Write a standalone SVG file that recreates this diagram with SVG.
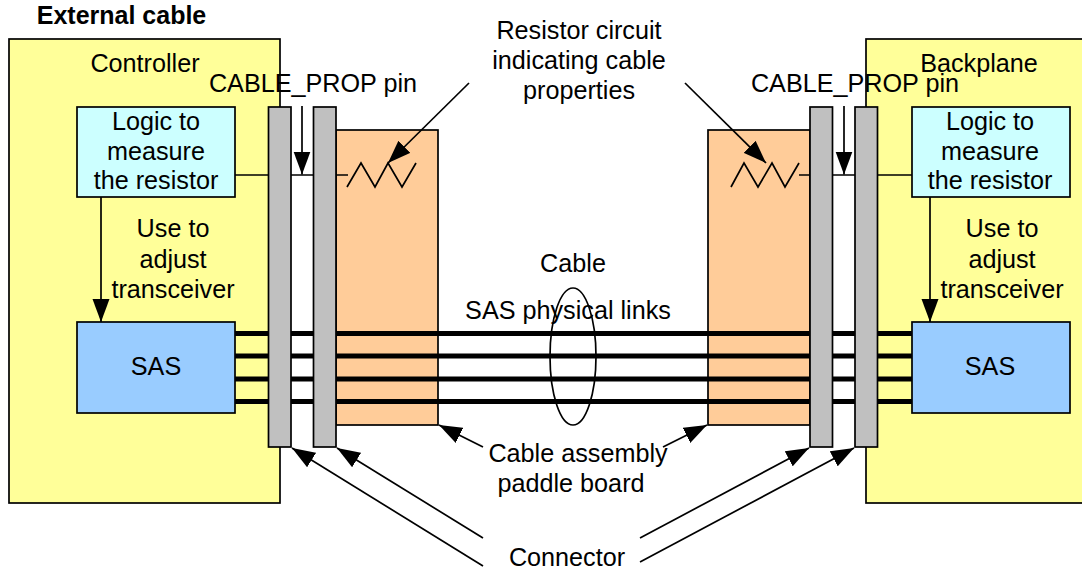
<svg xmlns="http://www.w3.org/2000/svg" width="1082" height="571" viewBox="0 0 1082 571">
<style>
text{font-family:"Liberation Sans",Arial,sans-serif;font-size:25.200px;fill:#000;text-anchor:middle}
.box{stroke:#000;stroke-width:1.700}
.y{fill:#ffff99}.c{fill:#ccffff}.s{fill:#99ccff}.p{fill:#ffcc99}.g{fill:#c0c0c0}
.l{stroke:#000;stroke-width:1.700;fill:none}
.a{stroke:#000;stroke-width:1.700;fill:none;marker-end:url(#ah)}
.bus{stroke:#000;stroke-width:5;fill:none}
</style>
<defs>
<marker id="ah" markerUnits="userSpaceOnUse" markerWidth="24" markerHeight="18" refX="23" refY="9" orient="auto"><path d="M0 0.500L23 9L0 17.500Z" fill="#000"/></marker>
</defs>
<text x="121.500" y="24" style="font-weight:bold;font-size:25px">External cable</text>
<g id="controller"><rect class="box y" x="9" y="39" width="271" height="464"/><text x="145" y="72">Controller</text></g>
<g id="backplane"><rect class="box y" x="866" y="39" width="217" height="464"/><text x="979" y="72">Backplane</text></g>
<g id="paddle-left"><rect class="box p" x="336" y="130" width="102" height="295"/></g>
<g id="paddle-right"><rect class="box p" x="708" y="130" width="102" height="295"/></g>
<g id="connectors">
<path class="bus" d="M235 333.500H912M235 356H912M235 379H912M235 401.500H912"/>
<path class="l" d="M235 175H268M291 175H314M336 175H348M347 187L361 163L375 187L388 163L402 187L416 163"/>
<path class="l" d="M731 187L744 163L758 187L772 163L785 187L799 163M799 175H810M832 175H855M877 175H912"/>
<path class="a" d="M302 106V174.500"/>
<path class="a" d="M844 106V174.500"/>
<path class="a" d="M469 83L388 163"/>
<path class="a" d="M685 83L766 163"/>
<path class="a" d="M101 197V322"/>
<path class="a" d="M930 197V322"/>
<path class="a" d="M483 447L439 425"/>
<path class="a" d="M663 447L707 425"/>
<path class="a" d="M483 566L292 448"/>
<path class="a" d="M483 538L337 448"/>
<path class="a" d="M640 538L809 448"/>
<path class="a" d="M640 562L854 448"/>
<ellipse cx="573" cy="356.500" rx="23" ry="68.500" fill="none" stroke="#000" stroke-width="1.700"/>
</g>
<g id="connector-left-1"><rect class="box g" x="268.500" y="107" width="22.500" height="340"/></g>
<g id="connector-left-2"><rect class="box g" x="313.500" y="107" width="22.500" height="340"/></g>
<g id="connector-right-1"><rect class="box g" x="810" y="107" width="22.500" height="340"/></g>
<g id="connector-right-2"><rect class="box g" x="855" y="107" width="22.500" height="340"/></g>
<g id="logic-left"><rect class="box c" x="77" y="107" width="158" height="90"/><text x="156" y="130">Logic to</text><text x="156" y="160">measure</text><text x="156" y="189">the resistor</text></g>
<g id="logic-right"><rect class="box c" x="912" y="107" width="158" height="90"/><text x="990" y="130">Logic to</text><text x="990" y="160">measure</text><text x="990" y="189">the resistor</text></g>
<g id="sas-left"><rect class="box s" x="77" y="322" width="158" height="91"/><text x="156" y="375">SAS</text></g>
<g id="sas-right"><rect class="box s" x="912" y="322" width="158" height="91"/><text x="990" y="375">SAS</text></g>
<g id="labels">
<text x="313" y="92">CABLE_PROP pin</text>
<text x="855" y="92">CABLE_PROP pin</text>
<text x="579" y="39">Resistor circuit</text><text x="579" y="69">indicating cable</text><text x="579" y="99">properties</text>
<text x="173" y="237">Use to</text><text x="173" y="268">adjust</text><text x="173" y="298">transceiver</text>
<text x="1002" y="237">Use to</text><text x="1002" y="268">adjust</text><text x="1002" y="298">transceiver</text>
<text x="573" y="272">Cable</text>
<text x="568" y="319">SAS physical links</text>
<text x="578" y="462">Cable assembly</text><text x="571" y="492">paddle board</text>
<text x="567" y="565.500">Connector</text>
</g>
</svg>
